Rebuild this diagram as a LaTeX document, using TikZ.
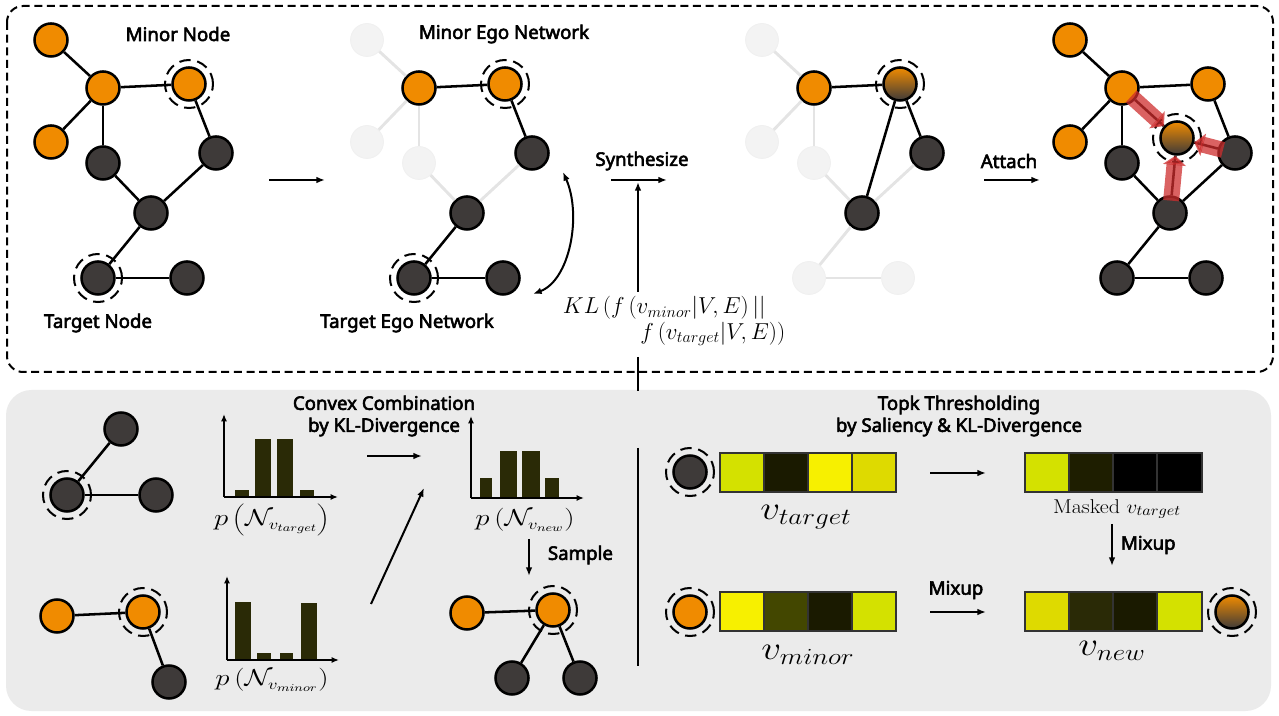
\documentclass[tikz,border=0pt]{standalone}
\usepackage{fontspec}
\usepackage{graphicx}
\usetikzlibrary{arrows.meta}
\newfontfamily\labelfont{Noto Sans}[AutoFakeBold=3]
\newcommand{\wide}[2]{\scalebox{#1}[1]{#2}}

\definecolor{orgc}{RGB}{240,139,0}
\definecolor{darkc}{RGB}{62,58,57}
\definecolor{fadec}{RGB}{243,243,243}
\definecolor{fadeedge}{RGB}{228,228,228}
\definecolor{panelc}{RGB}{235,235,235}
\definecolor{barc}{RGB}{42,42,6}
\definecolor{yelA}{RGB}{212,225,0}
\definecolor{yelB}{RGB}{247,240,0}
\definecolor{yelC}{RGB}{222,218,0}
\definecolor{blkA}{RGB}{26,26,0}
\definecolor{blkB}{RGB}{67,71,0}
\definecolor{blkC}{RGB}{42,42,6}
\definecolor{blkD}{RGB}{30,30,0}
\definecolor{redc}{RGB}{205,45,45}

\tikzset{every picture/.style={line width=0.75pt}}

\begin{document}
\begin{tikzpicture}[x=0.75pt,y=0.75pt,yscale=-1,xscale=1,
	onode/.style={circle,draw,line width=1.9pt,fill=orgc,minimum size=24.75pt,inner sep=0pt},
	dnode/.style={onode,fill=darkc},
	gnode/.style={circle,draw,line width=1.9pt,top color=orgc,middle color=orgc,bottom color=darkc,minimum size=24.75pt,inner sep=0pt},
	fnode/.style={circle,draw=black!6,line width=0.6pt,fill=fadec,minimum size=24.75pt,inner sep=0pt},
	ring/.style={circle,draw,line width=1.5pt,dash pattern=on 8.5pt off 5pt,minimum size=36pt,inner sep=0pt},
	edge/.style={line width=1.9pt},
	fedge/.style={line width=2.2pt,draw=fadeedge},
	redarr/.style={line width=12pt,draw=redc,opacity=0.75,shorten <=-4pt,-{Triangle[length=7pt,width=17pt]}},
	arr/.style={line width=1.5pt,-{Latex[length=6.5pt,width=5pt]}},
	axarr/.style={line width=1.5pt,-{Latex[length=5.5pt,width=4.5pt]}},
	lbl/.style={font=\labelfont\bfseries\fontsize{14}{16.5}\selectfont,align=center},
	cell/.style={draw=black!80,line width=0.9pt}]
	%set diagram to the size of the figure
	\useasboundingbox (0,0) rectangle (1279,716);

	%Panels
	\fill[panelc,rounded corners=19pt] (6,390) rectangle (1271,711);
	\draw[line width=1.5pt,dash pattern=on 6pt off 3.5pt,rounded corners=12pt] (7,6) rectangle (1273,372);

	%Graph: input graph
	\node[onode] (a1) at (51,40) {};
	\node[onode] (a2) at (103,88) {};
	\node[onode] (a3) at (189,84) {};
	\node[onode] (a4) at (51,142) {};
	\node[dnode] (d1) at (103,163) {};
	\node[dnode] (d2) at (216,153) {};
	\node[dnode] (d3) at (151,213) {};
	\node[dnode] (d4) at (98,278) {};
	\node[dnode] (d5) at (187,278) {};
	\node[ring] (ra3) at (a3) {};
	\node[ring] (rd4) at (d4) {};
	\draw[edge] (a1) -- (a2);
	\draw[edge] (a2) -- (a3);
	\draw[edge] (a2) -- (a4);
	\draw[edge] (a2) -- (d1);
	\draw[edge] (a3) -- (d2);
	\draw[edge] (d1) -- (d3);
	\draw[edge] (d2) -- (d3);
	\draw[edge] (d3) -- (d4);
	\draw[edge] (d4) -- (d5);
	% Text Node
	\node[lbl] (minnode) at (178,34) {Minor Node};
	% Text Node
	\node[lbl] (tgtnode) at (98,323) {Target Node};

	%Arrow to ego networks
	\coordinate (e1s) at (269,180);
	\coordinate (e1e) at (325,180);
	\draw[arr] (e1s) -- (e1e);

	%Graph: ego networks
	\node[fnode] (f1) at (367,40) {};
	\node[onode] (b2) at (419,88) {};
	\node[onode] (b3) at (505,84) {};
	\node[fnode] (f4) at (367,142) {};
	\node[fnode] (f5) at (419,163) {};
	\node[dnode] (e2) at (532,153) {};
	\node[dnode] (e3) at (467,213) {};
	\node[dnode] (e4) at (414,278) {};
	\node[dnode] (e5) at (503,278) {};
	\node[ring] (rb3) at (b3) {};
	\node[ring] (re4) at (e4) {};
	\draw[fedge] (f1) -- (b2);
	\draw[fedge] (b2) -- (f4);
	\draw[fedge] (b2) -- (f5);
	\draw[fedge] (f5) -- (e3);
	\draw[fedge] (e2) -- (e3);
	\draw[edge] (b2) -- (b3);
	\draw[edge] (b3) -- (e2);
	\draw[edge] (e3) -- (e4);
	\draw[edge] (e4) -- (e5);
	% Text Node
	\node[lbl] (minego) at (504,34) {Minor Ego Network};
	% Text Node
	\node[lbl] (tgtego) at (407,323) {Target Ego Network};

	%Curved double arrow
	\coordinate (cvA) at (533,294);
	\coordinate (cvB) at (563,172);
	\draw[line width=1.5pt,{Latex[length=6.5pt,width=5pt]}-{Latex[length=6.5pt,width=5pt]}] (cvA) .. controls (570,280) and (582,215) .. (cvB);

	%Synthesize
	\coordinate (syS) at (611,180);
	\coordinate (syE) at (667,180);
	\draw[arr] (syS) -- (syE);
	\node[lbl] (synth) at (642,161) {Synthesize};
	\coordinate (klTop) at (638,292);
	\coordinate (klHit) at (638,182);
	\draw[arr] (klTop) -- (klHit);
	\coordinate (klBot) at (638,357);
	\coordinate (klPan) at (638,391);
	\draw[line width=1.5pt] (klBot) -- (klPan);
	% Text Node
	\node[font=\fontsize{18}{22}\selectfont] (kl1) at (665,308) {$KL\left(f\left(v_{minor}|V,E\right)||\right.$};
	% Text Node
	\node[font=\fontsize{18}{22}\selectfont] (kl2) at (712,334) {$\left.f\left(v_{target}|V,E\right)\right)$};

	%Graph: synthesized node
	\node[fnode] (g1) at (762,40) {};
	\node[onode] (c2) at (814,88) {};
	\node[gnode] (c3) at (900,84) {};
	\node[fnode] (g4) at (762,142) {};
	\node[fnode] (g5) at (814,163) {};
	\node[dnode] (k2) at (927,153) {};
	\node[dnode] (k3) at (862,213) {};
	\node[fnode] (g8) at (809,278) {};
	\node[fnode] (g9) at (898,278) {};
	\node[ring] (rc3) at (c3) {};
	\draw[fedge] (g1) -- (c2);
	\draw[fedge] (c2) -- (g4);
	\draw[fedge] (c2) -- (g5);
	\draw[fedge] (g5) -- (k3);
	\draw[fedge] (k2) -- (k3);
	\draw[fedge] (k3) -- (g8);
	\draw[fedge] (g8) -- (g9);
	\draw[edge] (c2) -- (c3);
	\draw[edge] (c3) -- (k2);
	\draw[edge] (c3) -- (k3);

	%Attach
	\coordinate (atS) at (984,180);
	\coordinate (atE) at (1040,180);
	\draw[arr] (atS) -- (atE);
	\node[lbl] (attach) at (1009,161) {Attach};

	%Graph: augmented graph
	\node[onode] (h1) at (1070,40) {};
	\node[onode] (h2) at (1122,88) {};
	\node[onode] (h3) at (1208,84) {};
	\node[onode] (h4) at (1070,142) {};
	\node[dnode] (m1) at (1122,163) {};
	\node[dnode] (m2) at (1235,153) {};
	\node[dnode] (m3) at (1170,213) {};
	\node[dnode] (m4) at (1117,278) {};
	\node[dnode] (m5) at (1206,278) {};
	\node[gnode] (nw) at (1177,138) {};
	\node[ring] (rnw) at (nw) {};
	\draw[edge] (h1) -- (h2);
	\draw[edge] (h2) -- (h3);
	\draw[edge] (h2) -- (h4);
	\draw[edge] (h2) -- (m1);
	\draw[edge] (h3) -- (m2);
	\draw[edge] (m1) -- (m3);
	\draw[edge] (m2) -- (m3);
	\draw[edge] (m3) -- (m4);
	\draw[edge] (m4) -- (m5);
	\draw[edge] (h2) -- (nw);
	\draw[edge] (m2) -- (nw);
	\draw[edge] (m3) -- (nw);
	\draw[redarr] (h2) -- (nw);
	\draw[redarr] (m2) -- (nw);
	\draw[redarr] (m3) -- (nw);

	%Bottom left: target ego network
	\node[dnode] (p1) at (121,429) {};
	\node[dnode] (p2) at (67,495) {};
	\node[dnode] (p3) at (156,495) {};
	\node[ring] (rp2) at (p2) {};
	\draw[edge] (p1) -- (p2);
	\draw[edge] (p2) -- (p3);

	%Bottom left: minor ego network
	\node[onode] (q1) at (57,616) {};
	\node[onode] (q2) at (143,612) {};
	\node[dnode] (q3) at (169,682) {};
	\node[ring] (rq2) at (q2) {};
	\draw[edge] (q1) -- (q2);
	\draw[edge] (q2) -- (q3);

	%Histogram target
	\fill[barc] (235,490) rectangle (249,497);
	\fill[barc] (255,439) rectangle (271,497);
	\fill[barc] (277,439) rectangle (293,497);
	\fill[barc] (300,490) rectangle (314,497);
	\draw[axarr] (224,497) -- (224,414);
	\draw[axarr] (224,497) -- (338,497);
	% Text Node
	\node[font=\fontsize{16}{19}\selectfont] (ptgt) at (272,520) {\wide{1.25}{$p\left(\mathcal{N}_{v_{target}}\right)$}};

	%Histogram minor
	\fill[barc] (235,602) rectangle (251,660);
	\fill[barc] (257,653) rectangle (271,660);
	\fill[barc] (280,653) rectangle (293,660);
	\fill[barc] (301,603) rectangle (317,660);
	\draw[axarr] (227,660) -- (227,576);
	\draw[axarr] (227,660) -- (339,660);
	% Text Node
	\node[font=\fontsize{16}{19}\selectfont] (pmin) at (272,680) {\wide{1.25}{$p\left(\mathcal{N}_{v_{minor}}\right)$}};

	%Histogram new
	\fill[barc] (480,478) rectangle (492,498);
	\fill[barc] (500,451) rectangle (517,498);
	\fill[barc] (522,451) rectangle (540,498);
	\fill[barc] (545,478) rectangle (559,498);
	\draw[axarr] (471,498) -- (471,416);
	\draw[axarr] (471,498) -- (584,498);
	% Text Node
	\node[font=\fontsize{16}{19}\selectfont] (pnew) at (525,520) {\wide{1.25}{$p\left(\mathcal{N}_{v_{new}}\right)$}};

	%Convex combination
	\node[lbl] (convex) at (384,416) {Convex Combination\\by KL-Divergence};
	\coordinate (cvS) at (367,456);
	\coordinate (cvE) at (422,456);
	\draw[arr] (cvS) -- (cvE);
	\coordinate (dgS) at (371,604);
	\coordinate (dgE) at (424,488);
	\draw[arr] (dgS) -- (dgE);
	\coordinate (smS) at (529,539);
	\coordinate (smE) at (529,576);
	\draw[arr] (smS) -- (smE);
	\node[lbl,anchor=west] (sample) at (543,555) {Sample};

	%Bottom middle: sampled network
	\node[onode] (s1) at (467,613) {};
	\node[onode] (s2) at (553,610) {};
	\node[dnode] (s3) at (512,678) {};
	\node[dnode] (s4) at (580,678) {};
	\node[ring] (rs2) at (s2) {};
	\draw[edge] (s1) -- (s2);
	\draw[edge] (s2) -- (s3);
	\draw[edge] (s2) -- (s4);

	%Divider
	\draw[line width=1pt] (638,448) -- (638,666);

	%Topk thresholding
	\node[lbl] (topk) at (959,416) {Topk Thresholding\\by Saliency \& KL-Divergence};

	%Vector target
	\node[dnode] (vt) at (690,472) {};
	\node[ring] (rvt) at (vt) {};
	\draw[cell,fill=yelA] (720,453) rectangle (764,492);
	\draw[cell,fill=blkA] (764,453) rectangle (808,492);
	\draw[cell,fill=yelB] (808,453) rectangle (852,492);
	\draw[cell,fill=yelC] (852,453) rectangle (896,492);
	% Text Node
	\node[font=\fontsize{24}{28}\selectfont] (vtl) at (806,517) {\wide{1.18}{$v_{target}$}};

	%Vector minor
	\node[onode] (vm) at (690,612) {};
	\node[ring] (rvm) at (vm) {};
	\draw[cell,fill=yelB] (720,592) rectangle (764,631);
	\draw[cell,fill=blkB] (764,592) rectangle (808,631);
	\draw[cell,fill=blkA] (808,592) rectangle (852,631);
	\draw[cell,fill=yelA] (852,592) rectangle (896,631);
	% Text Node
	\node[font=\fontsize{24}{28}\selectfont] (vml) at (808,655) {\wide{1.18}{$v_{minor}$}};

	%Vector masked
	\draw[cell,fill=yelA] (1025,453) rectangle (1069,492);
	\draw[cell,fill=blkD] (1069,453) rectangle (1113,492);
	\draw[cell,fill=black] (1113,453) rectangle (1157,492);
	\draw[cell,fill=black] (1157,453) rectangle (1202,492);
	% Text Node
	\node[font=\fontsize{15}{18}\selectfont] (mskl) at (1117,509) {\wide{1.1}{Masked $v_{target}$}};

	%Vector new
	\draw[cell,fill=yelC] (1025,592) rectangle (1069,631);
	\draw[cell,fill=blkC] (1069,592) rectangle (1113,631);
	\draw[cell,fill=blkA] (1113,592) rectangle (1157,631);
	\draw[cell,fill=yelA] (1157,592) rectangle (1202,631);
	\node[gnode] (vn) at (1232,612) {};
	\node[ring] (rvn) at (vn) {};
	% Text Node
	\node[font=\fontsize{24}{28}\selectfont] (vnl) at (1112,651) {\wide{1.18}{$v_{new}$}};

	%Mixup arrows
	\coordinate (mxS) at (930,473);
	\coordinate (mxE) at (986,473);
	\draw[arr] (mxS) -- (mxE);
	\coordinate (mdS) at (1112,524);
	\coordinate (mdE) at (1112,566);
	\draw[arr] (mdS) -- (mdE);
	\node[lbl,anchor=west] (mixr) at (1116,545) {Mixup};
	\coordinate (mmS) at (930,612);
	\coordinate (mmE) at (986,612);
	\draw[arr] (mmS) -- (mmE);
	\node[lbl] (mixl) at (956,590) {Mixup};

\end{tikzpicture}
\end{document}
